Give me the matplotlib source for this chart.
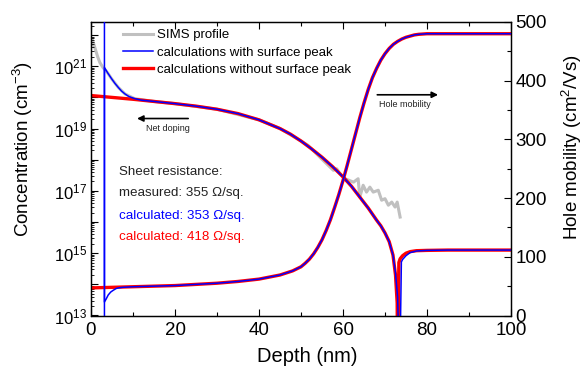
import numpy as np
import matplotlib
matplotlib.use("Agg")
import matplotlib.pyplot as plt
from matplotlib.ticker import LogLocator, FuncFormatter, MultipleLocator, NullFormatter, FixedLocator

plt.rcParams['font.family'] = ['Liberation Sans', 'DejaVu Sans']
plt.rcParams['mathtext.fontset'] = 'custom'
plt.rcParams['mathtext.rm'] = 'Liberation Sans'
plt.rcParams['mathtext.it'] = 'Liberation Sans:italic'
plt.rcParams['mathtext.bf'] = 'Liberation Sans:bold'

# ---------------- data ----------------
# Net doping without surface peak (log10 cm^-3)
dop_depth = [0, 5, 10, 15, 20, 25, 30, 35, 40, 45, 47.5, 50, 52.5, 55, 57.5, 60, 62, 64,
             66, 68, 69, 70, 71, 71.9, 72.5, 72.9, 73.0, 73.3, 73.6, 74.2, 75, 76, 77.5, 80, 85, 100]
dop_log_red = [20.06, 20.0, 19.94, 19.87, 19.80, 19.72, 19.62, 19.48, 19.28, 19.0, 18.82, 18.60,
               18.35, 18.08, 17.78, 17.45, 17.15, 16.80, 16.45, 16.06, 15.88, 15.65, 15.37, 14.94,
               14.30, 13.4, 11.0, 14.7, 14.82, 14.92, 15.0, 15.05, 15.08, 15.09, 15.1, 15.1]

# Net doping with surface peak (log10 cm^-3)
dop_depth_blue = [3.2, 3.2, 4.0, 4.9, 5.7, 6.5, 7.3, 8.1, 9.0, 10.4, 12, 15, 20, 25, 30, 35, 40, 45,
                  47.5, 50, 52.5, 55, 57.5, 60, 62, 64, 66, 68, 69, 70, 71, 71.9, 72.5, 73.0, 73.5,
                  73.9, 74.2, 75, 76, 77.5, 80, 85, 100]
dop_log_blue = [11.0, 20.96, 20.78, 20.6, 20.45, 20.32, 20.2, 20.11, 20.03, 19.96, 19.91, 19.87,
                19.80, 19.72, 19.62, 19.48, 19.28, 19.0, 18.82, 18.60, 18.35, 18.08, 17.78, 17.45,
                17.15, 16.80, 16.45, 16.06, 15.88, 15.65, 15.37, 14.94, 14.36, 13.6, 11.0, 14.72,
                14.80, 14.92, 15.02, 15.07, 15.09, 15.1, 15.1]

# SIMS profile (log10 cm^-3)
sims_depth = [0, 0.3, 1.0, 1.6, 2.1, 2.9, 3.4, 4.0, 4.9, 6.5, 8.1, 10.4, 15, 20, 30, 40, 45, 50,
              51.7, 54.5, 57.7, 58.5, 59.3, 60.5, 62.5, 63.6, 64.0, 64.8, 65.6, 66.4, 67.2, 68.4,
              69.2, 70.0, 70.8, 71.6, 72.4, 72.9, 73.6]
sims_log = [21.65, 21.87, 21.56, 21.3, 21.12, 20.95, 20.88, 20.78, 20.6, 20.32, 20.11, 19.96, 19.87,
            19.80, 19.62, 19.28, 19.0, 18.60, 18.46, 18.08, 17.66, 17.71, 17.55, 17.39, 17.28,
            17.39, 16.80, 17.18, 16.96, 17.12, 16.96, 17.02, 16.70, 16.75, 16.54, 16.64, 16.48,
            16.64, 16.16]

# Hole mobility (cm^2/Vs)
mob_depth = [0, 5, 10, 15, 20, 25, 30, 35, 40, 45, 48, 50, 51, 52, 53, 54, 55, 56, 57, 58, 59,
             60, 61, 62, 63, 64, 65, 66, 67, 68, 69, 70, 71, 72, 73, 74, 75, 76, 77, 78, 80, 100]
mob_red = [47, 48, 49, 50, 51, 53, 55, 58, 62, 69, 76, 83, 89, 96, 105, 116, 129, 145, 163, 184,
           206, 230, 256, 283, 310, 337, 362, 385, 405, 421, 435, 446, 455, 462, 467, 471, 474,
           476, 478, 479, 480, 480]
mob_depth_blue = [3.2, 3.2, 3.6, 4.1, 4.7, 5.3, 6.0, 6.5, 7.5, 10, 15, 20, 25, 30, 35, 40, 45, 48,
                  50, 51, 52, 53, 54, 55, 56, 57, 58, 59, 60, 61, 62, 63, 64, 65, 66, 67, 68, 69,
                  70, 71, 72, 73, 74, 75, 76, 77, 78, 80, 100]
mob_blue = [600, 23, 28, 35, 40, 43, 46, 47, 48, 49, 50, 51, 53, 55, 58, 62, 69, 76, 83, 89, 96,
            105, 116, 129, 145, 163, 184, 206, 230, 256, 283, 310, 337, 362, 385, 405, 421, 435,
            446, 455, 462, 467, 471, 474, 476, 478, 479, 480, 480]

conc_major_exp = [13, 14, 15, 16, 17, 18, 19, 20, 21, 22]
conc_labeled_exp = [13, 15, 17, 19, 21]

legend_labels = ["SIMS profile", "calculations with surface peak", "calculations without surface peak"]
sheet_lines = ["Sheet resistance:", "measured: 355 \u03A9/sq.", "calculated: 353 \u03A9/sq.",
               "calculated: 418 \u03A9/sq."]

# ---------------- figure ----------------
W, H = 584, 368
fig = plt.figure(figsize=(W / 100, H / 100), dpi=100)
ax = fig.add_axes([91 / W, 1 - 315.5 / H, (511 - 91) / W, (315.5 - 22) / H])
ax2 = ax.twinx()

RED = '#ff0000'
BLUE = '#0000ff'
GRAY = '#c0c0c0'

l_sims, = ax.plot(sims_depth, 10 ** np.array(sims_log), color=GRAY, lw=2.2, zorder=1)
l_red, = ax.plot(dop_depth, 10 ** np.array(dop_log_red), color=RED, lw=2.4, zorder=2)
l_blue, = ax.plot(dop_depth_blue, 10 ** np.array(dop_log_blue), color=BLUE, lw=1.1, zorder=3)

ax2.plot(mob_depth, mob_red, color=RED, lw=2.4, zorder=2)
ax2.plot(mob_depth_blue, mob_blue, color=BLUE, lw=1.1, zorder=3)

ax.set_yscale('log')
ax.set_xlim(0, 100)
ax.set_ylim(1e13, 10 ** 22.42)
ax2.set_ylim(0, 500)

ax.xaxis.set_major_locator(MultipleLocator(20))
ax.xaxis.set_minor_locator(MultipleLocator(10))
ax.yaxis.set_major_locator(FixedLocator([10.0 ** e for e in conc_major_exp]))
ax.yaxis.set_minor_locator(LogLocator(base=10, subs=np.arange(2, 10), numticks=50))
ax.yaxis.set_minor_formatter(NullFormatter())


def fmt(v, pos):
    e = int(round(np.log10(v)))
    if e in conc_labeled_exp:
        return r'$\mathregular{10^{%d}}$' % e
    return ''


ax.yaxis.set_major_formatter(FuncFormatter(fmt))
ax2.yaxis.set_major_locator(MultipleLocator(100))
ax2.yaxis.set_minor_locator(MultipleLocator(50))

ax.tick_params(axis='x', which='both', direction='in', top=True, labelsize=13.5, pad=5)
ax.tick_params(axis='x', which='major', length=5, width=0.8)
ax.tick_params(axis='x', which='minor', length=3, width=0.8)
ax.tick_params(axis='y', which='major', direction='in', length=5, width=0.8, labelsize=12, pad=3)
ax.tick_params(axis='y', which='minor', direction='in', length=2.5, width=0.6)
ax2.tick_params(axis='y', which='major', direction='in', length=5, width=0.8, labelsize=13.5, pad=3)
ax2.tick_params(axis='y', which='minor', direction='in', length=3, width=0.8)

for a in (ax, ax2):
    for s in a.spines.values():
        s.set_linewidth(0.9)

fig.text(307 / W, 1 - 357 / H, 'Depth (nm)', fontsize=14.5, ha='center', va='center')
fig.text(23 / W, 1 - 149 / H, 'Concentration (cm$^{-3}$)', fontsize=13.5, rotation=90,
         ha='center', va='center', rotation_mode='anchor')
fig.text(572 / W, 1 - 147 / H, 'Hole mobility (cm$^{2}$/Vs)', fontsize=13.5, rotation=90,
         ha='center', va='center', rotation_mode='anchor')

ax2.legend([l_sims, l_blue, l_red], legend_labels, loc='upper left',
           bbox_to_anchor=(0.07, 0.985), frameon=False, fontsize=9.5, handlelength=2.3,
           handletextpad=0.3, labelspacing=0.38, borderpad=0.2, borderaxespad=0)

# Sheet resistance text
colors = ['#222222', '#222222', BLUE, RED]
ys = [0.49, 0.417, 0.34, 0.268]
for t, c, yy in zip(sheet_lines, colors, ys):
    ax.text(0.067, yy, t, color=c, fontsize=9.6, transform=ax.transAxes, va='center', ha='left')

# arrows
ax.annotate('', xy=(10.3, 2.1e19), xytext=(23.8, 2.1e19),
            arrowprops=dict(arrowstyle='-|>', color='k', lw=1.2, mutation_scale=9))
ax.text(18.2, 1.0e19, 'Net doping', fontsize=6.5, ha='center', va='center', color='#222222')
ax2.annotate('', xy=(83.3, 376), xytext=(67.5, 376),
             arrowprops=dict(arrowstyle='-|>', color='k', lw=1.2, mutation_scale=9))
ax2.text(74.8, 360, 'Hole mobility', fontsize=6.5, ha='center', va='center', color='#222222')

fig.savefig('out.png', dpi=100)
